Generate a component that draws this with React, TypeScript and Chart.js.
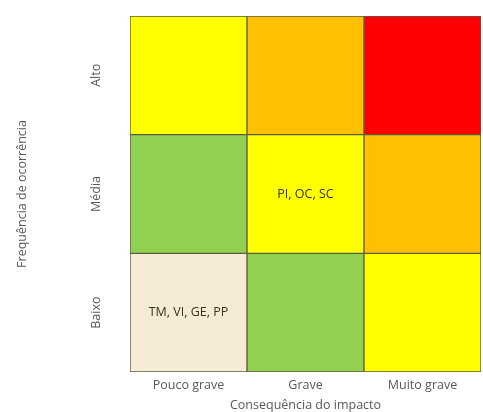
import React, { useEffect, useRef } from "react";
import { Chart, registerables } from "chart.js";

Chart.register(...registerables);

const impactCategories = ["Pouco grave", "Grave", "Muito grave"];
const frequencyLevels = ["Baixo", "Média", "Alto"];
// cell colours per frequency row (bottom to top), per impact column
const rowBaixoColors = ["#F6ECD6", "#92D050", "#FFFF00"];
const rowMediaColors = ["#92D050", "#FFFF00", "#FFC000"];
const rowAltoColors = ["#FFFF00", "#FFC000", "#FF0000"];
const rowBaixoValues = [1, 1, 1];
const rowMediaValues = [1, 1, 1];
const rowAltoValues = [1, 1, 1];
const rowBaixoText = ["TM, VI, GE, PP", "", ""];
const rowMediaText = ["", "PI, OC, SC", ""];
const rowAltoText = ["", "", ""];
const yTickValues = [0.5, 1.5, 2.5];

const FAMILY = "'Open Sans', 'DejaVu Sans', sans-serif";

const cellTextPlugin = {
  id: "cellText",
  afterDatasetsDraw(chart: any) {
    const ctx = chart.ctx;
    const texts = [rowBaixoText, rowMediaText, rowAltoText];
    ctx.save();
    ctx.font = `12.5px ${FAMILY}`;
    ctx.fillStyle = "#33331f";
    ctx.textAlign = "center";
    ctx.textBaseline = "middle";
    texts.forEach((row, di) => {
      const meta = chart.getDatasetMeta(di);
      row.forEach((t, i) => {
        if (!t) return;
        const el = meta.data[i] as any;
        const p = el.getProps(["x", "y", "base"], true);
        ctx.fillText(t, p.x, (p.y + p.base) / 2);
      });
    });
    ctx.restore();
  },
};

export default function App() {
  const ref = useRef<HTMLCanvasElement>(null);
  useEffect(() => {
    if (!ref.current) return;
    const font = { family: FAMILY, size: 12.5, lineHeight: 1 };
    const mk = (label: string, data: number[], colors: string[]) => ({
      label,
      data,
      backgroundColor: colors,
      borderColor: "#5c5c40",
      borderWidth: 1,
      borderSkipped: false,
      barPercentage: 1,
      categoryPercentage: 1,
    });
    const chart = new Chart(ref.current, {
      type: "bar",
      data: {
        labels: impactCategories,
        datasets: [
          mk(frequencyLevels[0], rowBaixoValues, rowBaixoColors),
          mk(frequencyLevels[1], rowMediaValues, rowMediaColors),
          mk(frequencyLevels[2], rowAltoValues, rowAltoColors),
        ],
      },
      options: {
        animation: false,
        responsive: true,
        maintainAspectRatio: false,
        layout: { padding: { left: 16, right: 2, top: 16, bottom: 0 } },
        plugins: { legend: { display: false }, tooltip: { enabled: false } },
        scales: {
          x: {
            stacked: true,
            grid: { display: false, drawTicks: false },
            border: { display: false },
            ticks: { color: "#595959", font, padding: 7 },
            title: {
              display: true,
              text: "Consequência do impacto",
              color: "#595959",
              font,
              padding: { top: 1, bottom: 0 },
            },
          },
          y: {
            stacked: true,
            min: 0,
            max: 3,
            grid: { display: false, drawTicks: false },
            border: { display: false },
            afterBuildTicks: (axis: any) => {
              axis.ticks = yTickValues.map((v) => ({ value: v }));
            },
            afterFit: (axis: any) => {
              axis.paddingTop = 0;
              axis.paddingBottom = 0;
            },
            ticks: {
              color: "#595959",
              font,
              minRotation: 90,
              maxRotation: 90,
              crossAlign: "center",
              padding: 16,
              callback: (v: any) => frequencyLevels[Math.floor(Number(v))],
            },
            title: {
              display: true,
              text: "Frequência de ocorrência",
              color: "#595959",
              font,
              padding: { top: 0, bottom: 57 },
            },
          },
        },
      },
      plugins: [cellTextPlugin],
    });
    return () => chart.destroy();
  }, []);
  return (
    <div style={{ position: "absolute", left: 0, top: 0, width: 483, height: 412 }}>
      <canvas ref={ref} />
    </div>
  );
}
